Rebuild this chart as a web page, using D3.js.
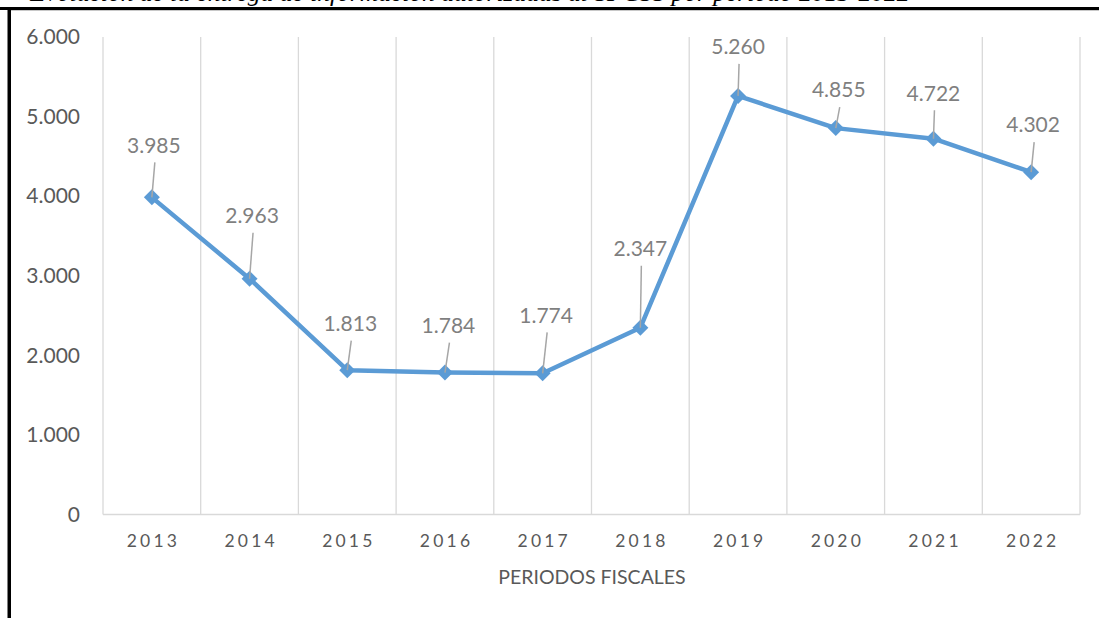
<!DOCTYPE html>
<html>
<head>
<meta charset="utf-8">
<script src="https://cdn.jsdelivr.net/npm/d3@7"></script>
<style>
  html, body { margin: 0; padding: 0; background: #fff; }
  svg { display: block; }
</style>
</head>
<body>
<svg id="chart" width="1099" height="618"></svg>
<script>
// ---- data ----
const years = ["2013","2014","2015","2016","2017","2018","2019","2020","2021","2022"];
const values = [3985, 2963, 1813, 1784, 1774, 2347, 5260, 4855, 4722, 4302];
const valueLabels = ["3.985","2.963","1.813","1.784","1.774","2.347","5.260","4.855","4.722","4.302"];
const yTicks = [0, 1000, 2000, 3000, 4000, 5000, 6000];
const yTickLabels = ["0","1.000","2.000","3.000","4.000","5.000","6.000"];
const xTitle = "PERIODOS FISCALES";
const caption = "Evolución de la entrega de información autorizadas al SPCSS por periodo 2013-2022";

// label placement (layout, pixels relative to each point)
const labelDx = [2, 2.5, 3, 3.5, 3.5, 0, 0, 3, 0, 2];
const labelDy = [-52, -63, -46.5, -47, -58, -79, -49, -38, -45.5, -47];

const svg = d3.select("#chart");
const margin = {left: 103, right: 19, top: 37, bottom: 103.5};
const W = 1099, H = 618;

const x = d3.scaleBand().domain(years).range([margin.left, W - margin.right]).paddingInner(0).paddingOuter(0);
const y = d3.scaleLinear().domain([0, 6000]).range([H - margin.bottom, margin.top]);

// caption (cropped at top, as in the reference)
svg.append("text")
  .attr("x", 30).attr("y", 1)
  .attr("font-family", "Liberation Serif")
  .attr("font-style", "italic")
  .attr("font-size", 25.5)
  .attr("fill", "#000")
  .text(caption);

// frame
svg.append("rect").attr("x", 0).attr("y", 7).attr("width", W).attr("height", 3).attr("fill", "#000");
svg.append("rect").attr("x", 7.5).attr("y", 7).attr("width", 3.5).attr("height", H).attr("fill", "#000");
svg.append("rect").attr("x", 11).attr("y", 10).attr("width", W - 11).attr("height", 1).attr("fill", "#c8c8c8");

// vertical gridlines at category boundaries
const bounds = years.map(d => x(d)).concat([x(years[years.length - 1]) + x.bandwidth()]);
svg.append("g").selectAll("line").data(bounds).join("line")
  .attr("x1", d => d).attr("x2", d => d)
  .attr("y1", y(6000)).attr("y2", y(0))
  .attr("stroke", "#d9d9d9").attr("stroke-width", 1.3);

// bottom axis line
svg.append("line")
  .attr("x1", x.range()[0]).attr("x2", x.range()[1])
  .attr("y1", y(0)).attr("y2", y(0))
  .attr("stroke", "#d9d9d9").attr("stroke-width", 1.3);

// y axis labels
const yAxis = d3.axisLeft(y).tickValues(yTicks).tickFormat((d, i) => yTickLabels[i]).tickSize(0).tickPadding(23);
const gy = svg.append("g").attr("transform", `translate(${margin.left},0)`).call(yAxis);
gy.select(".domain").remove();
gy.selectAll("text")
  .attr("font-family", "Lato").attr("font-size", 21).attr("fill", "#595959");

// x axis labels
const xAxis = d3.axisBottom(x).tickSize(0).tickPadding(20);
const gx = svg.append("g").attr("transform", `translate(0,${y(0)})`).call(xAxis);
gx.select(".domain").remove();
gx.selectAll("text")
  .attr("font-family", "Lato").attr("font-size", 17.5).attr("fill", "#595959")
  .attr("letter-spacing", "3.2px")
  .attr("dx", 1.6);

// x axis title
svg.append("text")
  .attr("x", 592).attr("y", 584)
  .attr("text-anchor", "middle")
  .attr("font-family", "Lato").attr("font-size", 19.5).attr("fill", "#595959")
  .text(xTitle);

// line
const cx = d => x(d) + x.bandwidth() / 2;
const pts = years.map((d, i) => [cx(d), y(values[i])]);
svg.append("path")
  .attr("d", d3.line()(pts))
  .attr("fill", "none").attr("stroke", "#5B9BD5").attr("stroke-width", 4.5)
  .attr("stroke-linejoin", "round");

// markers (diamonds)
svg.append("g").selectAll("path").data(pts).join("path")
  .attr("d", d => `M${d[0]},${d[1] - 8}L${d[0] + 8},${d[1]}L${d[0]},${d[1] + 8}L${d[0] - 8},${d[1]}Z`)
  .attr("fill", "#5B9BD5");

// leader lines
svg.append("g").selectAll("line").data(pts).join("line")
  .attr("x1", (d, i) => d[0] + labelDx[i] + 1)
  .attr("y1", (d, i) => d[1] + labelDy[i] + 17)
  .attr("x2", d => d[0])
  .attr("y2", d => d[1])
  .attr("stroke", "#a6a6a6").attr("stroke-width", 1.5);

// data labels
svg.append("g").selectAll("text").data(pts).join("text")
  .attr("x", (d, i) => d[0] + labelDx[i])
  .attr("y", (d, i) => d[1] + labelDy[i])
  .attr("dy", "0.35em")
  .attr("text-anchor", "middle")
  .attr("font-family", "Lato").attr("font-size", 21).attr("fill", "#7f7f7f")
  .text((d, i) => valueLabels[i]);
</script>
</body>
</html>
